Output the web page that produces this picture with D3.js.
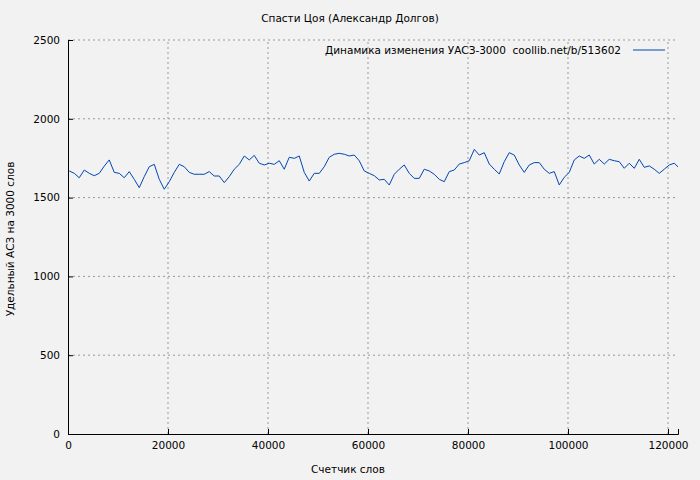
<!DOCTYPE html>
<html><head><meta charset="utf-8">
<script src="https://cdn.jsdelivr.net/npm/d3@7"></script>
<style>body{margin:0;background:#f2f2f2}svg{display:block}text{font-family:"DejaVu Sans",sans-serif;font-size:10.5px;fill:#000}</style>
</head><body>
<script>
const values = [1669,1654,1626,1675,1654,1639,1654,1700,1739,1660,1654,1626,1665,1616,1563,1633,1696,1711,1616,1553,1601,1660,1711,1696,1660,1648,1648,1648,1665,1637,1637,1595,1633,1680,1711,1764,1739,1768,1718,1707,1718,1711,
1734,1680,1756,1749,1764,1660,1605,1654,1654,1696,1756,1775,1781,1775,1764,1770,1734,1669,1654,1639,1612,1616,1580,1648,1680,1707,1654,1622,1622,1680,1669,1648,1616,1601,1665,1675,1713,1722,1734,1806,1770,
1785,1713,1680,1650,1728,1785,1770,1707,1660,1707,1722,1722,1680,1654,1665,1580,1629,1660,1739,1764,1749,1770,1713,1743,1713,1743,1734,1728,1686,1718,1686,1743,1692,1701,1680,1654,1680,1707,1718,1695];
const xs = values.map((v,i)=> i<values.length-1 ? 250+i*1000 : 122000);
const xTicks = [0,20000,40000,60000,80000,100000,120000];
const yTicks = [0,500,1000,1500,2000,2500];
const title = "Спасти Цоя (Александр Долгов)";
const legendText = "Динамика изменения УАСЗ-3000\u00a0\u00a0coollib.net/b/513602";

const W=700,H=480,L=68,R=678,T=40,B=434;
const svg=d3.select("body").append("svg").attr("width",W).attr("height",H);
svg.append("rect").attr("width",W).attr("height",H).attr("fill","#f2f2f2");
const x=d3.scaleLinear().domain([0,122000]).range([L,R]);
const y=d3.scaleLinear().domain([0,2500]).range([B,T]);
const g=svg.append("g");
xTicks.forEach(t=>{ if(t>0) g.append("line").attr("x1",x(t)).attr("x2",x(t)).attr("y1",B).attr("y2",T).attr("stroke","#999").attr("stroke-dasharray","2,3");});
yTicks.forEach(t=>{ if(t>0) g.append("line").attr("x1",L).attr("x2",R).attr("y1",y(t)).attr("y2",y(t)).attr("stroke","#999").attr("stroke-dasharray","2,3");});
const xa=svg.append("g").attr("transform",`translate(0,${B})`).call(d3.axisBottom(x).tickValues(xTicks).tickSize(-5).tickPadding(8).tickFormat(d3.format("d")));
const ya=svg.append("g").attr("transform",`translate(${L},0)`).call(d3.axisLeft(y).tickValues(yTicks).tickSize(-5).tickPadding(8).tickFormat(d3.format("d")));
[xa,ya].forEach(a=>{a.select(".domain").attr("stroke","#000");a.selectAll("text").style("font-family","DejaVu Sans").style("font-size","10.5px");});
svg.append("path").datum(values).attr("fill","none").attr("stroke","#0047b3").attr("stroke-width",1)
 .attr("d",d3.line().x((d,i)=>x(xs[i])).y(d=>y(d)));
svg.append("text").attr("x",W/2).attr("y",22).attr("text-anchor","middle").text(title);
svg.append("text").attr("x",621).attr("y",54).attr("text-anchor","end").text(legendText);
svg.append("line").attr("x1",633).attr("x2",665).attr("y1",50).attr("y2",50).attr("stroke","#0047b3");
svg.append("text").attr("x",W/2-2).attr("y",473).attr("text-anchor","middle").text("Счетчик слов");
svg.append("text").attr("transform",`translate(14,${(T+B)/2+2}) rotate(-90)`).attr("text-anchor","middle").text("Удельный АСЗ на 3000 слов");
</script>
</body></html>
